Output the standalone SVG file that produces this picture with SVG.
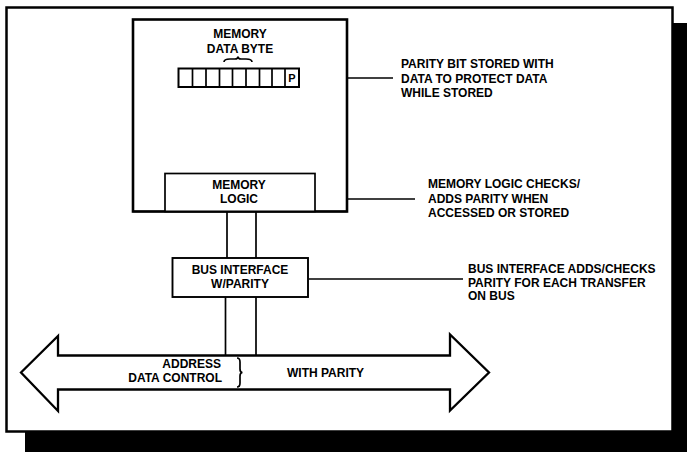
<svg xmlns="http://www.w3.org/2000/svg" width="687" height="452" viewBox="0 0 687 452">
<style>
  text { font-family: "Liberation Sans", Arial, sans-serif; font-weight: bold; font-size: 12px; fill: #000; }
  .c { text-anchor: middle; }
  .r { text-anchor: end; }
  .box { fill: #fff; stroke: #000; }
  .ln { stroke: #000; stroke-width: 1.7; fill: none; }
</style>
<rect width="687" height="452" fill="#fff"/>
<g id="frame">
  <rect x="25" y="431" width="662" height="21" fill="#000"/>
  <rect x="672" y="23" width="15" height="429" fill="#000"/>
  <rect x="6.5" y="7.5" width="666" height="424" fill="#fff" stroke="#000" stroke-width="2.5"/>
</g>
<g id="connectors">
  <line class="ln" x1="227" y1="212" x2="227" y2="258"/>
  <line class="ln" x1="256" y1="212" x2="256" y2="258"/>
  <line class="ln" x1="225.5" y1="297" x2="225.5" y2="355"/>
  <line class="ln" x1="256" y1="297" x2="256" y2="355"/>
  <line class="ln" x1="319" y1="78" x2="393" y2="78"/>
  <line class="ln" x1="325" y1="199" x2="415" y2="199"/>
  <line class="ln" x1="309" y1="279" x2="463" y2="279"/>
</g>
<g id="memory">
  <rect class="box" x="133" y="19.5" width="214" height="192" stroke-width="2.6"/>
  <text class="c" x="240" y="38">MEMORY</text>
  <text class="c" x="240" y="53">DATA BYTE</text>
  <path class="ln" stroke-width="1.2" d="M224,62 Q224,59 230,59 L235,59 Q238,59 238,56.5 Q238,59 241,59 L246,59 Q252,59 252,62"/>
  <g id="register">
    <rect x="178.5" y="68.5" width="120.5" height="18.5" fill="#fff" stroke="#000" stroke-width="2"/>
    <path class="ln" stroke-width="1.6" d="M192.5,68.5V87M206,68.5V87M219.5,68.5V87M232.5,68.5V87M246,68.5V87M259.5,68.5V87M272,68.5V87M285,68.5V87"/>
    <text class="c" x="292" y="82" style="font-size:11px">P</text>
  </g>
</g>
<g id="memory-logic">
  <rect class="box" x="165" y="173.5" width="150" height="38" stroke-width="1.7"/>
  <line class="ln" x1="133" y1="211.5" x2="347" y2="211.5" stroke-width="2.6"/>
  <text class="c" x="239" y="189">MEMORY</text>
  <text class="c" x="239" y="203">LOGIC</text>
</g>
<g id="bus-interface">
  <rect class="box" x="172.5" y="258" width="135.5" height="39" stroke-width="1.9"/>
  <text class="c" x="240" y="274">BUS INTERFACE</text>
  <text class="c" x="240" y="288">W/PARITY</text>
</g>
<g id="bus">
  <polygon points="21,372.5 58,336 58,355.5 450,355.5 450,334.5 489,372.5 450,410.5 450,389.5 58,389.5 58,411" fill="#fff" stroke="#000" stroke-width="2.3" stroke-linejoin="miter"/>
  <text class="r" x="221" y="368">ADDRESS</text>
  <text class="r" x="222" y="382">DATA CONTROL</text>
  <path class="ln" stroke-width="1.2" d="M237,358 Q240,358 240,362 L240,369 Q240,372.5 242.5,372.5 Q240,372.5 240,376 L240,383 Q240,387 237,387"/>
  <text x="287" y="377">WITH PARITY</text>
</g>
<g id="label-parity">
  <text x="401" y="68">PARITY BIT STORED WITH</text>
  <text x="401" y="83">DATA TO PROTECT DATA</text>
  <text x="401" y="97">WHILE STORED</text>
</g>
<g id="label-logic">
  <text x="428" y="188">MEMORY LOGIC CHECKS/</text>
  <text x="428" y="203">ADDS PARITY WHEN</text>
  <text x="428" y="217">ACCESSED OR STORED</text>
</g>
<g id="label-bus">
  <text x="468" y="273">BUS INTERFACE ADDS/CHECKS</text>
  <text x="468" y="287">PARITY FOR EACH TRANSFER</text>
  <text x="468" y="300">ON BUS</text>
</g>
</svg>
